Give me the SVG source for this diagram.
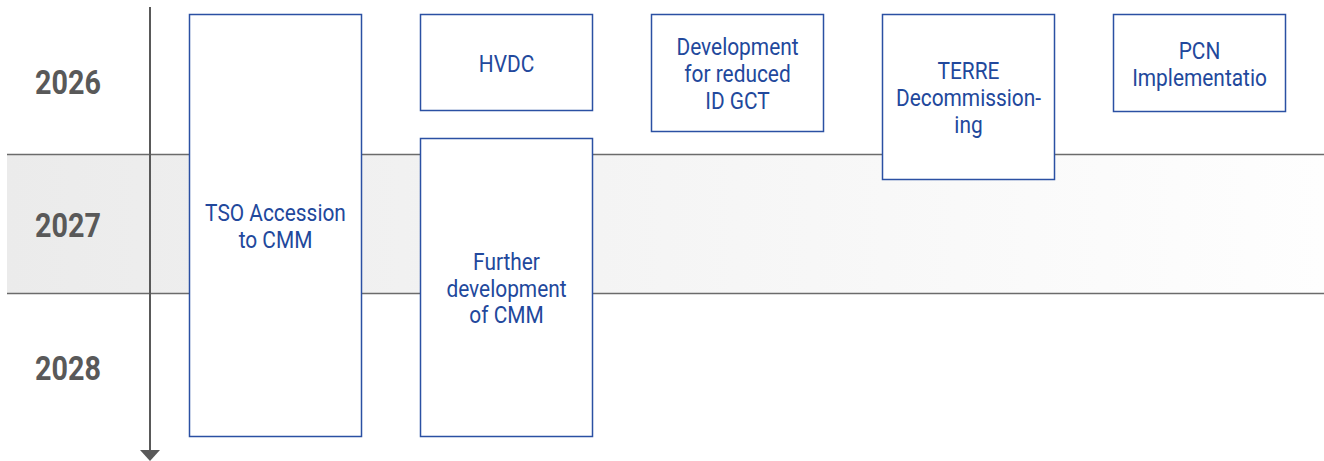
<svg xmlns="http://www.w3.org/2000/svg" width="1324" height="461" viewBox="0 0 1324 461">
  <defs>
    <linearGradient id="bandFill" x1="0" y1="0" x2="1" y2="0">
      <stop offset="0" stop-color="#ebebeb"/>
      <stop offset="0.5" stop-color="#f5f5f5"/>
      <stop offset="1" stop-color="#fefefe"/>
    </linearGradient>
    <marker id="axisHead" viewBox="0 0 11 20" refX="0" refY="10" markerWidth="11" markerHeight="20" markerUnits="userSpaceOnUse" orient="auto">
      <path d="M0,0 L11,10 L0,20 Z" fill="#595959"/>
    </marker>
    <style>
      .box { fill: #ffffff; stroke: #2b50a3; stroke-width: 1.5; }
      .lbl { font-family: Roboto, "Liberation Sans", sans-serif; font-size: 24px; fill: #22489c; text-anchor: middle; }
      .year { font-family: Roboto, "Liberation Sans", sans-serif; font-size: 33px; font-weight: bold; fill: #595959; text-anchor: middle; }
      .rule { stroke: #6b6b6b; stroke-width: 1.3; }
    </style>
  </defs>

  <!-- 2027 band -->
  <g id="band">
    <rect x="7" y="154.5" width="1317" height="139" fill="url(#bandFill)"/>
    <line class="rule" x1="7" y1="154.5" x2="1324" y2="154.5"/>
    <line class="rule" x1="7" y1="293.5" x2="1324" y2="293.5"/>
  </g>

  <!-- year labels -->
  <g id="years">
    <text class="year" transform="matrix(0.87 0 0 1 68 94)">2026</text>
    <text class="year" transform="matrix(0.87 0 0 1 68 237)">2027</text>
    <text class="year" transform="matrix(0.87 0 0 1 68 380)">2028</text>
  </g>

  <!-- time axis -->
  <g id="connectors">
    <line x1="150" y1="7" x2="150" y2="450" stroke="#595959" stroke-width="2" marker-end="url(#axisHead)"/>
  </g>

  <g id="tso-accession">
    <rect class="box" x="189.5" y="14.5" width="172" height="422"/>
    <text class="lbl" transform="matrix(0.87 0 0 1 275.5 221)">TSO Accession</text>
    <text class="lbl" transform="matrix(0.87 0 0 1 275.5 247.5)">to CMM</text>
  </g>

  <g id="hvdc">
    <rect class="box" x="420.5" y="14.5" width="172" height="96"/>
    <text class="lbl" transform="matrix(0.87 0 0 1 506.5 72)">HVDC</text>
  </g>

  <g id="further-development">
    <rect class="box" x="420.5" y="138.5" width="172" height="298"/>
    <text class="lbl" transform="matrix(0.87 0 0 1 506.5 270)">Further</text>
    <text class="lbl" transform="matrix(0.87 0 0 1 506.5 296.5)">development</text>
    <text class="lbl" transform="matrix(0.87 0 0 1 506.5 323)">of CMM</text>
  </g>

  <g id="reduced-id-gct">
    <rect class="box" x="651.5" y="14.5" width="172" height="117"/>
    <text class="lbl" transform="matrix(0.87 0 0 1 737.5 54.5)">Development</text>
    <text class="lbl" transform="matrix(0.87 0 0 1 737.5 81.5)">for reduced</text>
    <text class="lbl" transform="matrix(0.87 0 0 1 737.5 108.5)">ID GCT</text>
  </g>

  <g id="terre-decommissioning">
    <rect class="box" x="882.5" y="14.5" width="172" height="165"/>
    <text class="lbl" transform="matrix(0.87 0 0 1 968.5 79)">TERRE</text>
    <text class="lbl" transform="matrix(0.87 0 0 1 968.5 106)">Decommission-</text>
    <text class="lbl" transform="matrix(0.87 0 0 1 968.5 133)">ing</text>
  </g>

  <g id="pcn-implementation">
    <rect class="box" x="1113.5" y="14.5" width="172" height="97"/>
    <text class="lbl" transform="matrix(0.87 0 0 1 1199.5 59)">PCN</text>
    <text class="lbl" transform="matrix(0.87 0 0 1 1199.5 85.5)">Implementatio</text>
  </g>
</svg>
